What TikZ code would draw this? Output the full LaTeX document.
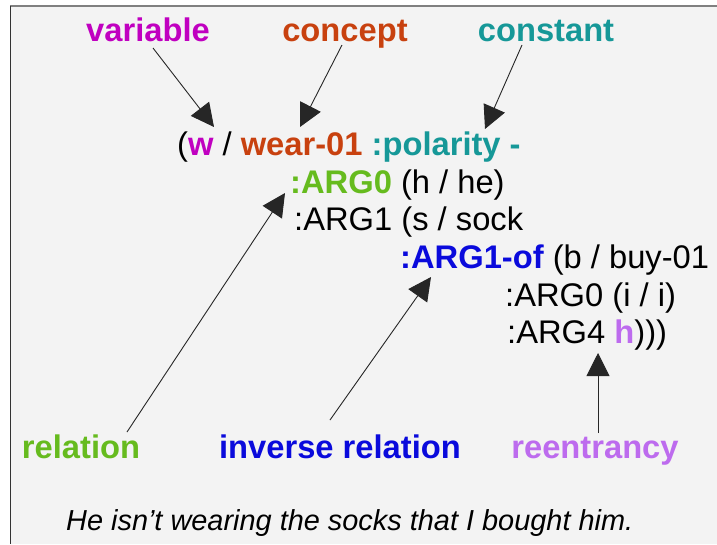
\documentclass[tikz,border=0pt]{standalone}
\usepackage{fontspec}
\setmainfont{Liberation Sans}
\usetikzlibrary{arrows.meta}
\definecolor{bgc}{HTML}{F3F3F3}
\definecolor{cvar}{HTML}{C000C0}
\definecolor{ccon}{HTML}{C8410F}
\definecolor{cconst}{HTML}{169898}
\definecolor{crel}{HTML}{66BB1E}
\definecolor{cinv}{HTML}{0A0ADC}
\definecolor{creen}{HTML}{BD6BEE}
\tikzset{
  amr/.style={inner sep=0pt, anchor=base west, font=\fontsize{32.7}{38}\selectfont},
  lab/.style={inner sep=0pt, anchor=base, font=\fontsize{32.7}{38}\selectfont\bfseries},
  ptr/.style={line width=0.9pt, draw=black!85, -{Triangle[length=23pt,width=23pt]}}
}
\begin{document}
\begin{tikzpicture}[x=1pt,y=-1pt]
\useasboundingbox (0,0) rectangle (717,544);
\fill[white] (0,0) rectangle (717,544);
\fill[bgc] (10,6) rectangle (717,544);
\draw[line width=2pt, draw=black!50] (10,6) -- (717,6);
\draw[line width=1.2pt, draw=black!80] (10.5,6) -- (10.5,544);
% top labels
\node[lab, text=cvar] (variable) at (148,41) {variable};
\node[lab, text=ccon] (concept) at (345,41) {concept};
\node[lab, text=cconst] (constant) at (546,41) {constant};
% AMR lines
\node[amr] (l1) at (177,155) {(\textcolor{cvar}{\bfseries w} / \textcolor{ccon}{\bfseries wear-01} \textcolor{cconst}{\bfseries :polarity -}};
\node[amr] (l2) at (290,193) {\textcolor{crel}{\bfseries :ARG0} (h / he)};
\node[amr] (l3) at (294,230) {:ARG1 (s / sock};
\node[amr] (l4) at (400,268) {\textcolor{cinv}{\bfseries :ARG1-of} (b / buy-01};
\node[amr] (l5) at (505,306) {:ARG0 (i / i)};
\node[amr] (l6) at (507,343) {:ARG4 \textcolor{creen}{\bfseries h})))};
% bottom labels
\node[lab, text=crel] (relation) at (81,458) {relation};
\node[lab, text=cinv] (inverse) at (340,458) {inverse relation};
\node[lab, text=creen] (reentrancy) at (595,458) {reentrancy};
% sentence
\node[inner sep=0pt, anchor=base west, font=\fontsize{28.9}{34}\selectfont\itshape] (sentence) at (66,530) {He isn’t wearing the socks that I bought him.};
% arrow coordinates
\coordinate (varS) at (153,48);
\coordinate (varT) at (214,127);
\coordinate (conS) at (342,45);
\coordinate (conT) at (300,127);
\coordinate (cstS) at (522,45);
\coordinate (cstT) at (485,129);
\coordinate (relS) at (127,432);
\coordinate (relT) at (285,193);
\coordinate (invS) at (330,420);
\coordinate (invT) at (431,277);
\coordinate (reeS) at (598,433);
\coordinate (reeT) at (598,353);
\draw[ptr] (varS) -- (varT);
\draw[ptr] (conS) -- (conT);
\draw[ptr] (cstS) -- (cstT);
\draw[ptr] (relS) -- (relT);
\draw[ptr] (invS) -- (invT);
\draw[ptr] (reeS) -- (reeT);
\end{tikzpicture}
\end{document}
